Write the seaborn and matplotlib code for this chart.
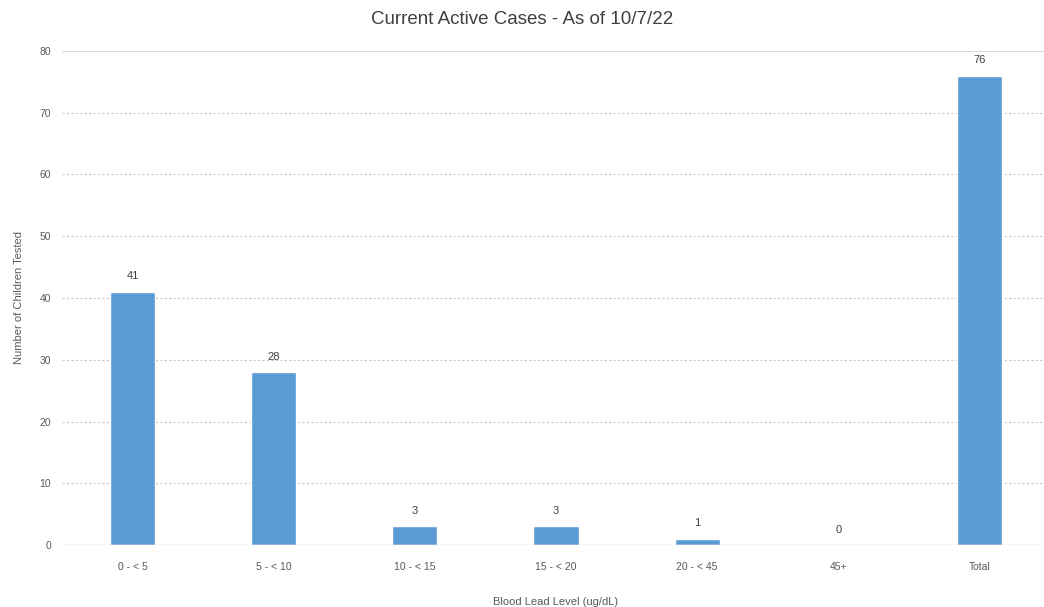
import matplotlib
matplotlib.use("Agg")
import matplotlib.pyplot as plt
import seaborn as sns
import pandas as pd

categories = ["0 - < 5", "5 - < 10", "10 - < 15", "15 - < 20", "20 - < 45", "45+", "Total"]
values = [41, 28, 3, 3, 1, 0, 76]
yticks = [0, 10, 20, 30, 40, 50, 60, 70, 80]

sns.set_style("white")
plt.rcParams['font.family'] = ['Liberation Sans Narrow', 'Liberation Sans', 'DejaVu Sans']

df = pd.DataFrame({"cat": categories, "val": values})

fig = plt.figure(figsize=(10.44, 6.07), dpi=100)
ax = fig.add_axes([62/1044, 1-545/607, (1050-62)/1044, (545-51)/607])

sns.barplot(data=df, x="cat", y="val", color="#5B9BD5", width=0.32, ax=ax, zorder=3, saturation=1)

ax.set_ylim(0, 80)
ax.set_xlim(-0.5, len(categories)-0.5)
ax.set_yticks(yticks)
for t in yticks[1:-1]:
    ax.axhline(t, color="#C8C8C8", lw=0.8, ls=(0, (2, 2)), zorder=1)
ax.axhline(80, color="#D9D9D9", lw=0.8, zorder=1)
ax.axhline(0, color="#D0D0D0", lw=1.0, zorder=4)

for s in ax.spines.values():
    s.set_visible(False)

ax.tick_params(axis="both", length=0, labelsize=7.5, colors="#595959", pad=8)
ax.tick_params(axis="x", pad=12)

for i, v in enumerate(values):
    ax.text(i, v + 2.5, str(v), ha="center", va="center", fontsize=8, color="#404040")

ax.set_xlabel("Blood Lead Level (ug/dL)", fontsize=8, color="#595959", labelpad=18)
ax.set_ylabel("Number of Children Tested", fontsize=8, color="#595959", labelpad=11)
fig.text(0.5, 1-20/607, "Current Active Cases - As of 10/7/22", ha="center", va="center",
         fontsize=13.5, color="#404040")

fig.savefig("out.png", dpi=100)
